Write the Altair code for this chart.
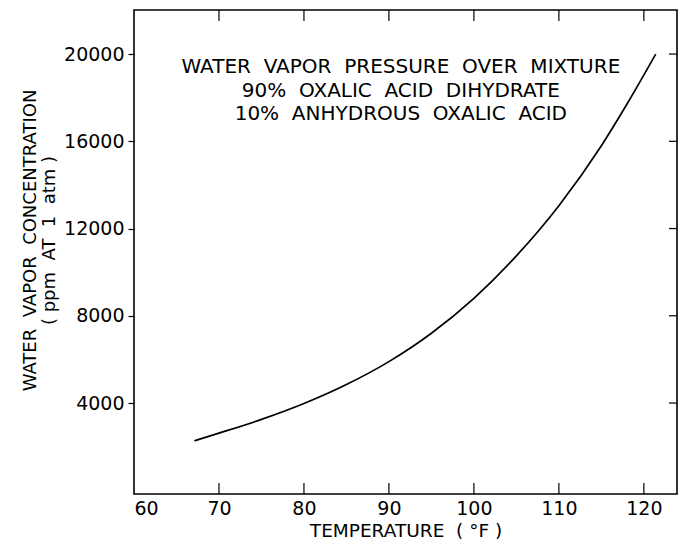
import altair as alt
import pandas as pd

# curve
temp_f = [67.1, 70, 75, 80, 85, 90, 95, 100, 105, 110, 115, 118, 121.4]
ppm = [2270, 2620, 3250, 3980, 4850, 5900, 7200, 8800, 10750, 13050, 15800, 17700, 20000]

x_ticks = [60, 70, 80, 90, 100, 110, 120]
x_inner_ticks = [70, 80, 90, 100, 110, 120]
y_ticks = [4000, 8000, 12000, 16000, 20000]

NB = "\u00a0"
notes = [f"WATER{NB} VAPOR{NB} PRESSURE{NB} OVER{NB} MIXTURE",
         f"90%{NB} OXALIC{NB} ACID{NB} DIHYDRATE",
         f"10%{NB} ANHYDROUS{NB} OXALIC{NB} ACID"]
note_x = [91.4, 91.4, 91.4]
note_y = [19400, 18300, 17250]

x_title = f"TEMPERATURE{NB} ({NB}°F{NB})"
y_title = [f"WATER{NB} VAPOR{NB} CONCENTRATION", f"({NB}ppm{NB} AT{NB} 1{NB} atm{NB})"]

FONT = "DejaVu Sans"
W, H = 543, 484
xdom = [60, 123.9]
ydom = [-170, 22020]

curve = pd.DataFrame({"t": temp_f, "c": ppm})
xt = pd.DataFrame({"t": x_inner_ticks})
yt = pd.DataFrame({"c": y_ticks})
nt = pd.DataFrame({"t": note_x, "c": note_y, "label": notes})

xs = alt.Scale(domain=xdom, nice=False, zero=False)
ys = alt.Scale(domain=ydom, nice=False, zero=False)

line = alt.Chart(curve).mark_line(color="black", strokeWidth=1.7, interpolate="monotone").encode(
    x=alt.X("t:Q", scale=xs,
            axis=alt.Axis(values=x_ticks, title=x_title, grid=False, ticks=False,
                          domain=False, labelPadding=5, labelFontSize=19, titleFontSize=18.5,
                          titleFontWeight="normal", titlePadding=3, labelFont=FONT, titleFont=FONT,
                          labelColor="black", titleColor="black", format="d")),
    y=alt.Y("c:Q", scale=ys,
            axis=alt.Axis(values=y_ticks, title=y_title,
                          grid=False, tickSize=6, tickColor="black", tickWidth=1.2,
                          domain=False, labelPadding=4, labelFontSize=19, titleFontSize=18,
                          titleFontWeight="normal", titlePadding=5, labelFont=FONT, titleFont=FONT,
                          labelColor="black", titleColor="black", titleLineHeight=19, format="d",
                          titleY=230)),
)

bottom_ticks = alt.Chart(xt).mark_rule(color="black", strokeWidth=1.2).encode(
    x=alt.X("t:Q", scale=xs), y=alt.value(H), y2=alt.value(H - 11))
top_ticks = alt.Chart(xt).mark_rule(color="black", strokeWidth=1.2).encode(
    x=alt.X("t:Q", scale=xs), y=alt.value(0), y2=alt.value(11))
right_ticks = alt.Chart(yt).mark_rule(color="black", strokeWidth=1.2).encode(
    y=alt.Y("c:Q", scale=ys), x=alt.value(W), x2=alt.value(W - 8))

text = alt.Chart(nt).mark_text(font=FONT, fontSize=20, color="black", baseline="middle", align="center").encode(
    x=alt.X("t:Q", scale=xs), y=alt.Y("c:Q", scale=ys), text="label:N")

chart = alt.layer(line, bottom_ticks, top_ticks, right_ticks, text).properties(
    width=W, height=H,
    padding={"left": 134, "top": 10, "right": 1, "bottom": 47},
    autosize="none",
    background="white",
).configure_view(stroke="black", strokeWidth=1.6)

chart.save("out.html", embed_options={"renderer": "svg", "actions": False})
